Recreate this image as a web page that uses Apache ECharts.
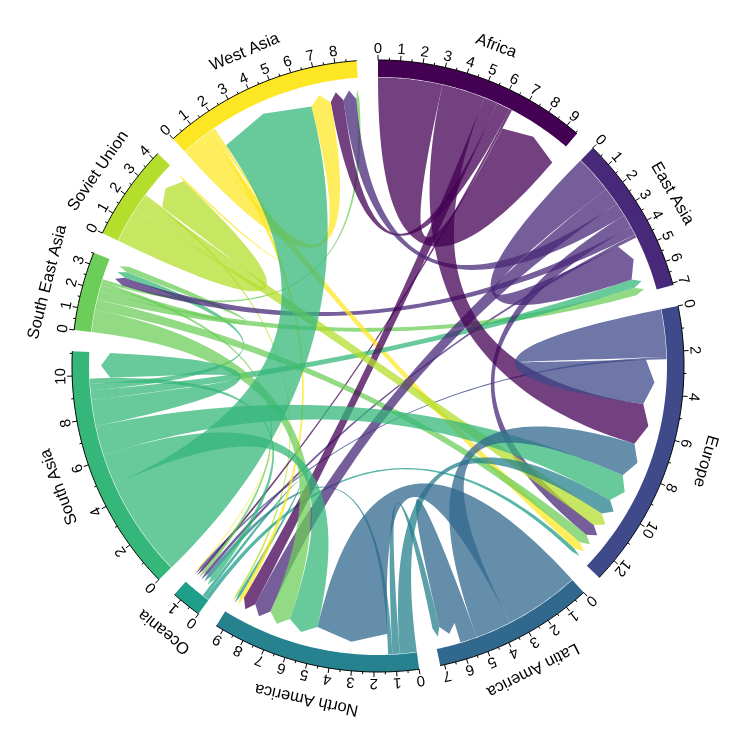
<!DOCTYPE html>
<html>
<head>
<meta charset="utf-8">
<title>Migration flows</title>
<script src="https://cdn.jsdelivr.net/npm/echarts@6/dist/echarts.min.js"></script>
<style>
  html, body { margin: 0; padding: 0; background: #fff; }
  #chart { width: 756px; height: 733px; }
</style>
</head>
<body>
<div id="chart"></div>
<script>
const regions = ['Africa', 'East Asia', 'Europe', 'Latin America', 'North America',
  'Oceania', 'South Asia', 'South East Asia', 'Soviet Union', 'West Asia']
const colors = ['#440154', '#482878', '#3E4A89', '#31688E', '#26828E',
  '#1F9E89', '#35B779', '#6DCD59', '#B4DE2C', '#FDE725']

// flows out of each region, same order as regions (millions)
const fromAfrica        = [3.05, 0, 2.05, 0, 0.65, 0.12, 0, 0, 0, 0.65]
const fromEastAsia      = [0, 1.8, 0.62, 0, 0.85, 0.15, 0, 0.4, 0, 0.65]
const fromEurope        = [0, 0, 2.25, 0, 0, 0.1, 0, 0, 0, 0]
const fromLatinAmerica  = [0, 0, 1.7, 0.8, 3.55, 0, 0, 0, 0, 0]
const fromNorthAmerica  = [0, 0, 0.8, 0.35, 0, 0.2, 0, 0, 0, 0]
const fromOceania       = [0, 0, 0.2, 0, 0.15, 0, 0, 0, 0, 0]
const fromSouthAsia     = [0, 0.45, 1.4, 0, 1.45, 0.25, 1.25, 0.3, 0, 4.75]
const fromSouthEastAsia = [0, 0.38, 0.5, 0, 1.05, 0.15, 0, 0.3, 0, 0.15]
const fromSovietUnion   = [0, 0, 0.7, 0, 0.1, 0, 0, 0, 1.7, 0]
const fromWestAsia      = [0, 0, 0.42, 0, 0.2, 0.05, 0, 0, 0.1, 1.0]

// major tick step of each sector axis
const tickStep = [1, 1, 2, 1, 1, 1, 2, 1, 1, 1]

const flows = [fromAfrica, fromEastAsia, fromEurope, fromLatinAmerica, fromNorthAmerica,
  fromOceania, fromSouthAsia, fromSouthEastAsia, fromSovietUnion, fromWestAsia]

// layout (angles in degrees, clockwise from top)
const GAP = 4
const n = regions.length
const totals = regions.map((_, i) =>
  flows[i].reduce((a, b) => a + b, 0) + flows.reduce((a, row) => a + row[i], 0))
const grand = totals.reduce((a, b) => a + b, 0)
const dpu = (360 - n * GAP) / grand
const starts = []
let acc = 0
totals.forEach((t, i) => { starts[i] = acc; acc += t * dpu + GAP })

const links = []
flows.forEach((row, i) => row.forEach((v, j) => {
  if (v > 0) links.push({ from: i, to: j, value: v })
}))
regions.forEach((_, i) => {
  let cur = starts[i]
  links.filter(l => l.from === i).sort((a, b) => b.value - a.value).forEach(l => {
    l.a1 = cur; cur += l.value * dpu; l.a2 = cur
  })
  links.filter(l => l.to === i).sort((a, b) => b.value - a.value).forEach(l => {
    l.b1 = cur; cur += l.value * dpu; l.b2 = cur
  })
})
links.sort((a, b) => a.value - b.value) // largest on top

const R = 306
const RMAX = 1.2
const TRACK_IN = 289 / R
const LINK_FROM = 288.5 / R
const LINK_TO = 268 / R
const ARROW_TIP = 277 / R
const TICK_LABEL = 317 / R
const NAME_R = 341 / R
const FONT = 'Liberation Sans, Arial, Helvetica, sans-serif'

function rgba(hex, a) {
  const v = parseInt(hex.slice(1), 16)
  return `rgba(${v >> 16},${(v >> 8) & 255},${v & 255},${a})`
}
function arc(api, r, a1, a2) {
  const pts = []
  const steps = Math.max(2, Math.ceil(Math.abs(a2 - a1) / 0.5))
  for (let k = 0; k <= steps; k++) pts.push(api.coord([r, a1 + (a2 - a1) * k / steps]))
  return pts
}
function curve(p0, c, p1) {
  const pts = []
  for (let k = 1; k < 60; k++) {
    const t = k / 60, u = 1 - t
    pts.push([u * u * p0[0] + 2 * u * t * c[0] + t * t * p1[0],
      u * u * p0[1] + 2 * u * t * c[1] + t * t * p1[1]])
  }
  return pts
}

function renderTrack(params, api) {
  const i = params.dataIndex
  const s = starts[i], e = s + totals[i] * dpu
  const pts = arc(api, 1, s, e).concat(arc(api, TRACK_IN, e, s))
  return { type: 'polygon', shape: { points: pts }, style: { fill: colors[i] } }
}

function renderLink(params, api) {
  const l = links[params.dataIndex]
  const c = api.coord([0, 0])
  const pA2 = api.coord([LINK_FROM, l.a2])
  const pB1 = api.coord([LINK_TO, l.b1])
  const pB2 = api.coord([LINK_TO, l.b2])
  const pA1 = api.coord([LINK_FROM, l.a1])
  let pts = arc(api, LINK_FROM, l.a1, l.a2)
  pts = pts.concat(curve(pA2, c, pB1))
  pts.push(pB1, api.coord([ARROW_TIP, (l.b1 + l.b2) / 2]), pB2)
  pts = pts.concat(curve(pB2, c, pA1))
  return { type: 'polygon', shape: { points: pts }, style: { fill: rgba(colors[l.from], 0.75) } }
}

function textEl(api, r, ang, text, size) {
  const p = api.coord([r, ang])
  return {
    type: 'text', x: p[0], y: p[1], rotation: -ang * Math.PI / 180,
    style: { text: text, fill: '#000', fontSize: size, fontFamily: FONT,
      align: 'center', verticalAlign: 'middle', textAlign: 'center', textVerticalAlign: 'middle' }
  }
}

function renderAxis(params, api) {
  const i = params.dataIndex
  const s = starts[i], t = totals[i]
  const children = [{
    type: 'polyline', shape: { points: arc(api, 1, s, s + t * dpu) },
    style: { stroke: '#000', lineWidth: 1, fill: null }
  }]
  const half = tickStep[i] / 2
  for (let k = 0; k * half <= t + 1e-9; k++) {
    const v = k * half
    const ang = s + v * dpu
    const major = k % 2 === 0
    const len = major ? 5 / R : 2.5 / R
    const p0 = api.coord([1, ang]), p1 = api.coord([1 + len, ang])
    children.push({
      type: 'line', shape: { x1: p0[0], y1: p0[1], x2: p1[0], y2: p1[1] },
      style: { stroke: '#000', lineWidth: 1 }
    })
    if (major) children.push(textEl(api, TICK_LABEL, ang, String(v), 15))
  }
  children.push(textEl(api, NAME_R, s + t * dpu / 2, regions[i], 16.5))
  return { type: 'group', children: children }
}

const chart = echarts.init(document.getElementById('chart'))
chart.setOption({
  animation: false,
  polar: { center: [378, 366], radius: R * RMAX },
  angleAxis: { type: 'value', min: 0, max: 360, startAngle: 90, clockwise: true, show: false },
  radiusAxis: { type: 'value', min: 0, max: RMAX, show: false },
  series: [
    {
      type: 'custom', coordinateSystem: 'polar', silent: true,
      data: regions.map((_, i) => [1, i]), renderItem: renderTrack
    },
    {
      type: 'custom', coordinateSystem: 'polar', silent: true,
      data: links.map((l, i) => [1, i]), renderItem: renderLink
    },
    {
      type: 'custom', coordinateSystem: 'polar', silent: true,
      data: regions.map((_, i) => [1, i]), renderItem: renderAxis
    }
  ]
})
</script>
</body>
</html>
